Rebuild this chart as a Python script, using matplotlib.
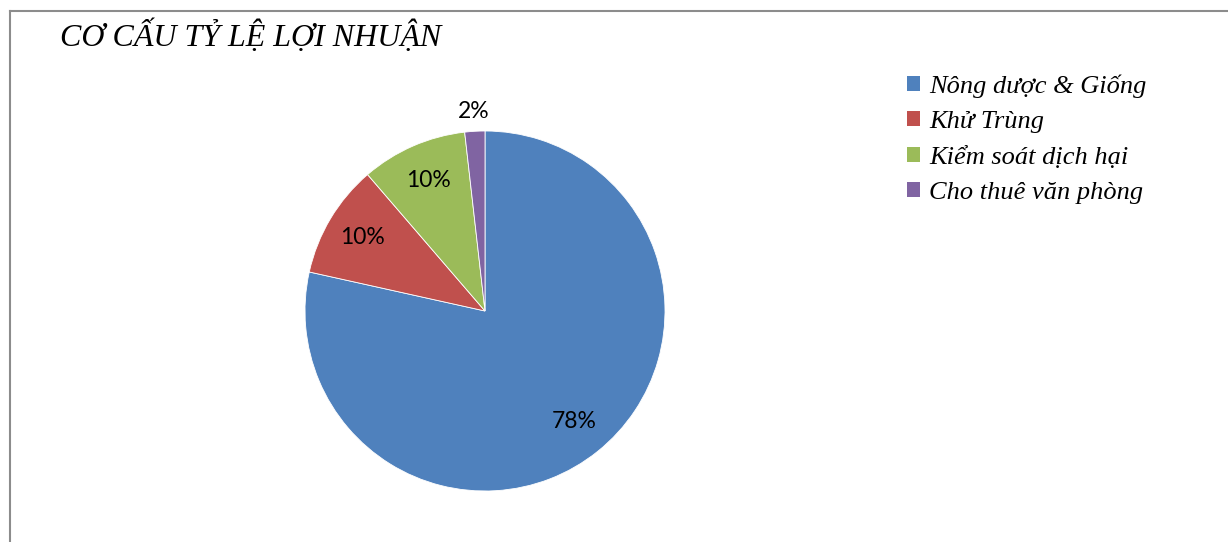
import matplotlib
matplotlib.use('Agg')
import matplotlib.pyplot as plt
from matplotlib.lines import Line2D
from matplotlib.patches import Patch

# 数据
labels = ['Nông dược & Giống', 'Khử Trùng', 'Kiểm soát dịch hại', 'Cho thuê văn phòng']
values = [78.4, 10.2, 9.5, 1.8]
colors = ['#4f81bd', '#c0504d', '#9bbb59', '#8064a2']
title = 'CƠ CẤU TỶ LỆ LỢI NHUẬN'

W, H = 1228, 542
fig = plt.figure(figsize=(W / 100, H / 100), dpi=100)
fig.patch.set_facecolor('white')

# pie center (485, 311), radius 180 px
cx, cy, r = 485, 311, 180
ax = fig.add_axes([(cx - r) / W, (H - cy - r) / H, 2 * r / W, 2 * r / H])
wedges, _, autotexts = ax.pie(values, colors=colors, startangle=90, counterclock=False,
                              autopct='%.0f%%', pctdistance=0.79,
                              wedgeprops=dict(linewidth=0.6, edgecolor='white'),
                              textprops=dict(family=['Lato', 'DejaVu Sans'], fontsize=16.5, color='black'))
ax.set_aspect('equal')
ax.set_xlim(-1, 1)
ax.set_ylim(-1, 1)

# small slice label outside
x, y = autotexts[3].get_position()
k = 1.11 / 0.79
autotexts[3].set_position((x * k, y * k))

serif = ['Liberation Serif', 'DejaVu Serif']
fig.text(60 / W, 1 - 36 / H, title, family=serif, style='italic', fontsize=23,
         va='center', ha='left')

handles = [Patch(facecolor=c, edgecolor='none') for c in colors]
fig.legend(handles, labels, loc='upper left', bbox_to_anchor=(907 / W, 1 - 74 / H),
           frameon=False, prop=dict(family=serif, style='italic', size=19),
           handlelength=0.5, handleheight=0.5, handletextpad=0.35, labelspacing=0.5,
           borderpad=0, borderaxespad=0)

# border
fig.add_artist(Line2D([9.5 / W, 9.5 / W], [0, 1 - 11 / H], color='#8c8c8c', lw=1.5,
                      transform=fig.transFigure))
fig.add_artist(Line2D([9.5 / W, 1], [1 - 11 / H, 1 - 11 / H], color='#8c8c8c', lw=1.5,
                      transform=fig.transFigure))

fig.savefig('out.png', dpi=100)
